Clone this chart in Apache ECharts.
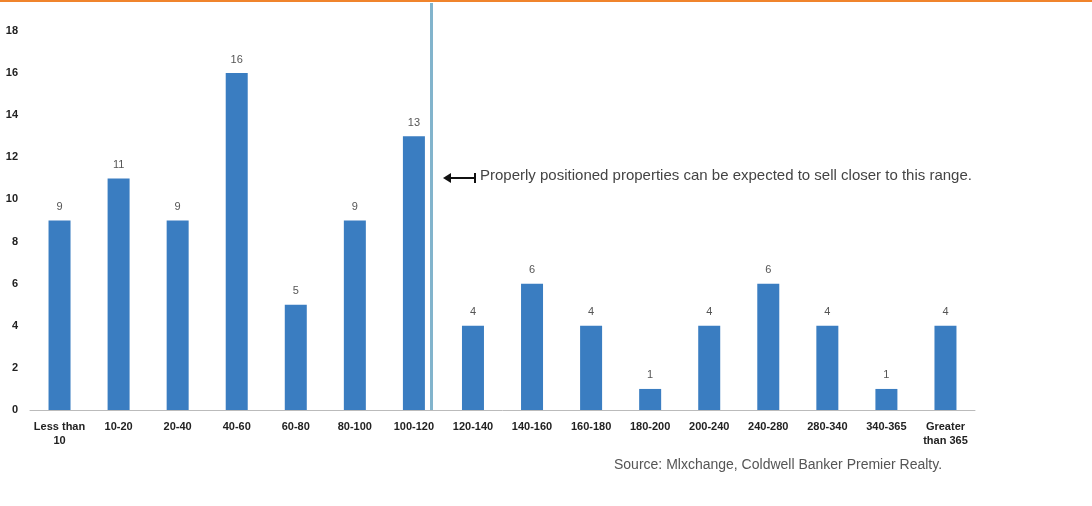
<!DOCTYPE html>
<html><head><meta charset="utf-8">
<script src="https://cdn.jsdelivr.net/npm/echarts@6/dist/echarts.min.js"></script>
<style>html,body{margin:0;padding:0;background:#fff}#c{width:1092px;height:506px}</style>
</head><body><div id="c"></div>
<script>
var categories = ['Less than\n10','10-20','20-40','40-60','60-80','80-100','100-120','120-140','140-160','160-180','180-200','200-240','240-280','280-340','340-365','Greater\nthan 365'];
var values = [9,11,9,16,5,9,13,4,6,4,1,4,6,4,1,4];
var yTicks = [0,2,4,6,8,10,12,14,16,18];

var chart = echarts.init(document.getElementById('c'));
chart.setOption({
  animation:false,
  grid:{left:30,right:117,top:31,bottom:96},
  xAxis:{type:'category',data:categories,
    axisLine:{lineStyle:{color:'#bbb'}},axisTick:{show:false},
    axisLabel:{color:'#222',fontWeight:'bold',fontSize:11,fontFamily:'Arial',interval:0,lineHeight:14,margin:10}},
  yAxis:{type:'value',min:0,max:18,interval:2,
    axisLine:{show:false},axisTick:{show:false},splitLine:{show:false},
    axisLabel:{color:'#222',fontWeight:'bold',fontSize:11,fontFamily:'Arial',margin:12,
      formatter:function(v){return yTicks.indexOf(v)>=0?v:'';}}},
  series:[{type:'bar',data:values,barWidth:22,
    itemStyle:{color:'#3a7dc1'},
    label:{show:true,position:'top',color:'#555',fontSize:11,fontFamily:'Arial',distance:8}}],
  graphic:[
    {type:'rect',shape:{x:0,y:0,width:1092,height:2},style:{fill:'#f0842c'}},
    {type:'rect',shape:{x:430,y:3,width:3,height:407},style:{fill:'#82b4cc'}},
    {type:'line',shape:{x1:445,y1:178,x2:475,y2:178},style:{stroke:'#111',lineWidth:2}},
    {type:'polygon',shape:{points:[[443,178],[451,173],[451,183]]},style:{fill:'#111'}},
    {type:'rect',shape:{x:474,y:173,width:2,height:10},style:{fill:'#111'}},
    {type:'text',x:480,y:168,style:{text:'Properly positioned properties can be expected to sell closer to this range.',fill:'#444',font:'15px Arial'}},
    {type:'text',x:614,y:458,style:{text:'Source: Mlxchange, Coldwell Banker Premier Realty.',fill:'#555',font:'14px Arial'}}
  ]
});
</script></body></html>
